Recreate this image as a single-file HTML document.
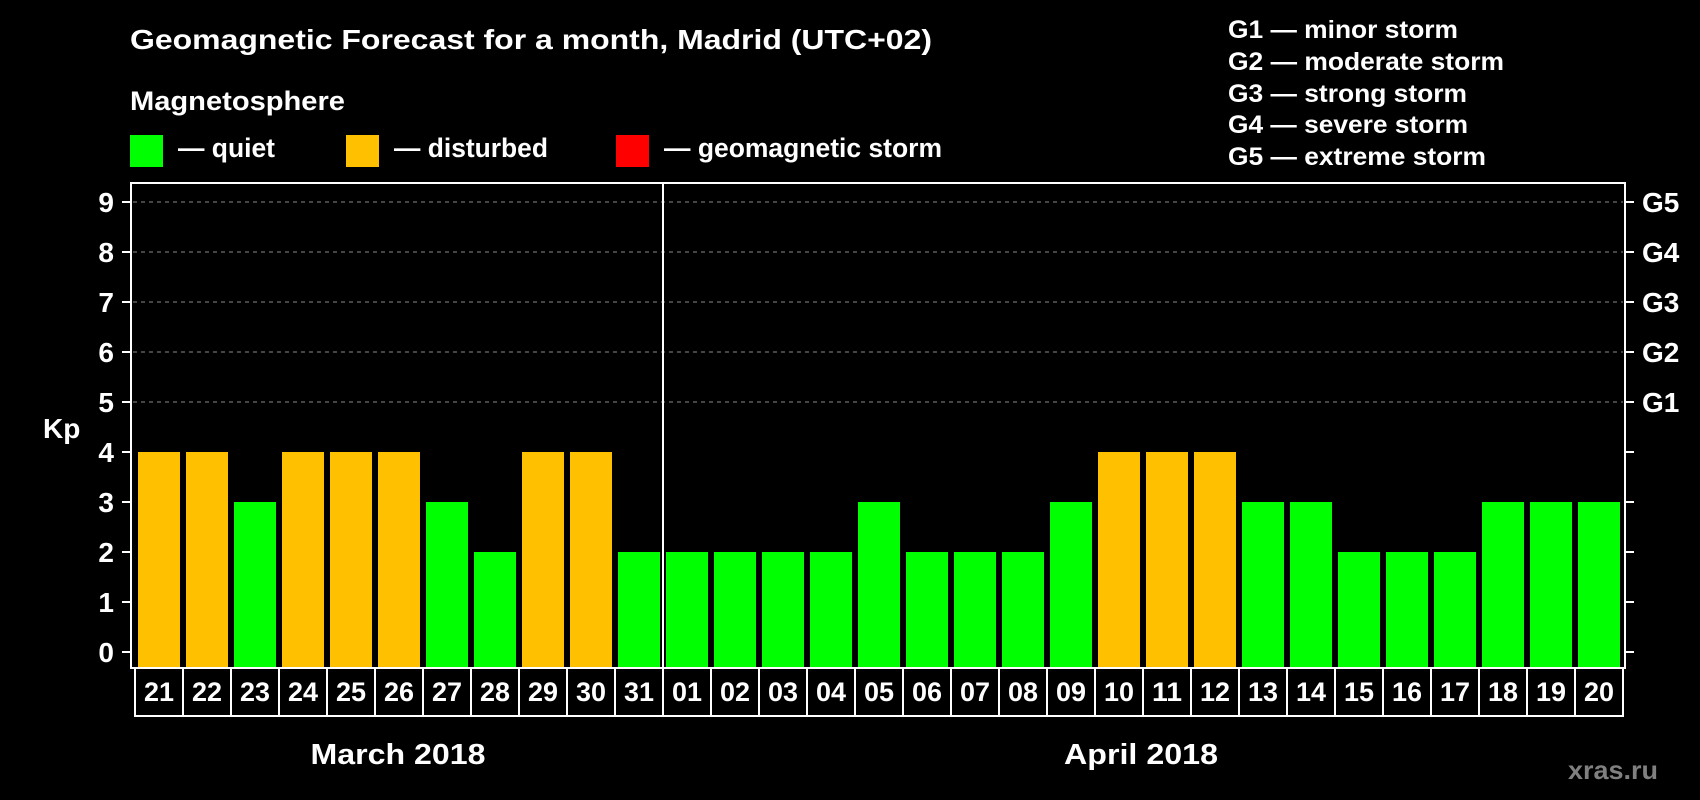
<!DOCTYPE html>
<html><head><meta charset="utf-8"><style>
html,body{margin:0;padding:0;background:#000;}
svg{display:block;font-family:"Liberation Sans",sans-serif;font-weight:bold;}
</style></head><body>
<svg id="chart" width="1700" height="800" viewBox="0 0 1700 800">
<rect x="0" y="0" width="1700" height="800" fill="#000"/>
<text x="130" y="49" font-size="28" fill="#fff" textLength="802" lengthAdjust="spacingAndGlyphs">Geomagnetic Forecast for a month, Madrid (UTC+02)</text>
<text x="130" y="110" font-size="27" fill="#fff" textLength="215" lengthAdjust="spacingAndGlyphs">Magnetosphere</text>
<rect x="130" y="135" width="33" height="32" fill="#00ff00"/>
<text x="178" y="157" font-size="27" fill="#fff" textLength="97" lengthAdjust="spacingAndGlyphs">— quiet</text>
<rect x="346" y="135" width="33" height="32" fill="#ffc000"/>
<text x="394" y="157" font-size="27" fill="#fff" textLength="154" lengthAdjust="spacingAndGlyphs">— disturbed</text>
<rect x="616" y="135" width="33" height="32" fill="#ff0000"/>
<text x="664" y="157" font-size="27" fill="#fff" textLength="278" lengthAdjust="spacingAndGlyphs">— geomagnetic storm</text>
<g font-size="25" fill="#fff">
<text x="1228" y="38" textLength="230" lengthAdjust="spacingAndGlyphs">G1 — minor storm</text>
<text x="1228" y="70" textLength="276" lengthAdjust="spacingAndGlyphs">G2 — moderate storm</text>
<text x="1228" y="102" textLength="239" lengthAdjust="spacingAndGlyphs">G3 — strong storm</text>
<text x="1228" y="133" textLength="240" lengthAdjust="spacingAndGlyphs">G4 — severe storm</text>
<text x="1228" y="165" textLength="258" lengthAdjust="spacingAndGlyphs">G5 — extreme storm</text>
</g>
<text x="43" y="438" font-size="28" fill="#fff">Kp</text>
<g id="plot"></g>
<text x="398" y="764" font-size="29" fill="#fff" text-anchor="middle" textLength="175" lengthAdjust="spacingAndGlyphs">March 2018</text>
<text x="1141" y="764" font-size="29" fill="#fff" text-anchor="middle" textLength="154" lengthAdjust="spacingAndGlyphs">April 2018</text>
<text x="1568" y="779" font-size="26" fill="#808080" textLength="90" lengthAdjust="spacingAndGlyphs">xras.ru</text>
</svg>
<script>
const days = ["21","22","23","24","25","26","27","28","29","30","31","01","02","03","04","05","06","07","08","09","10","11","12","13","14","15","16","17","18","19","20"];
const kpValues = [4,4,3,4,4,4,3,2,4,4,2,2,2,2,2,3,2,2,2,3,4,4,4,3,3,2,2,2,3,3,3];
const yTicks = [0,1,2,3,4,5,6,7,8,9];
const gLabels = ["G1","G2","G3","G4","G5"];
const gLevels = [5,6,7,8,9];

const NS = "http://www.w3.org/2000/svg";
const g = document.getElementById("plot");
const L = 131, R = 1625, T = 183, B = 668;
const y0 = 652, unit = 50;
const pitch = 48, x0 = 135;
function yS(v){ return y0 - v*unit; }
function xS(i){ return x0 + i*pitch; }
function mk(tag, attrs){ const e = document.createElementNS(NS, tag); for (const k in attrs) e.setAttribute(k, attrs[k]); g.appendChild(e); return e; }

// gridlines
gLevels.forEach(v => {
  const ln = mk("line", {x1:L+2, x2:R-2, y1:yS(v), y2:yS(v), stroke:"#8a8a8a", "stroke-width":1, "stroke-dasharray":"4,4"});
  
  
});
// bars
kpValues.forEach((v, i) => {
  const col = v >= 5 ? "#ff0000" : (v >= 4 ? "#ffc000" : "#00ff00");
  const r = mk("rect", {x:xS(i)+3, y:yS(v), width:42, height:B-yS(v), fill:col});
  
  
});
// frame
const fr = mk("rect", {x:L, y:T, width:R-L, height:B-T, fill:"none", stroke:"#fff", "stroke-width":2});


// month divider
const dv = mk("line", {x1:xS(11), x2:xS(11), y1:T, y2:B, stroke:"#fff", "stroke-width":2});


// y ticks
yTicks.forEach(v => {
  const t1 = mk("line", {x1:122, x2:L, y1:yS(v), y2:yS(v), stroke:"#fff", "stroke-width":2});
  
  
  const t2 = mk("line", {x1:R, x2:1634, y1:yS(v), y2:yS(v), stroke:"#fff", "stroke-width":2});
  
  
  const tx = mk("text", {x:114, y:yS(v)+10, "font-size":28, fill:"#fff", "text-anchor":"end"});
  tx.textContent = v;
  
  
});
gLevels.forEach((v, i) => {
  const tx = mk("text", {x:1642, y:yS(v)+10, "font-size":28, fill:"#fff"});
  tx.textContent = gLabels[i];
  
  
});
// day boxes
const box = mk("rect", {x:x0, y:B, width:days.length*pitch, height:716-B, fill:"none", stroke:"#fff", "stroke-width":2});


days.forEach((d, i) => {
  if (i > 0) {
    const sep = mk("line", {x1:xS(i), x2:xS(i), y1:B, y2:716, stroke:"#fff", "stroke-width":2});
    
    
  }
  const tx = mk("text", {x:xS(i)+pitch/2, y:701, "font-size":27, fill:"#fff", "text-anchor":"middle", textLength:30, lengthAdjust:"spacingAndGlyphs"});
  tx.textContent = d;
  
  
});
</script>
</body></html>
